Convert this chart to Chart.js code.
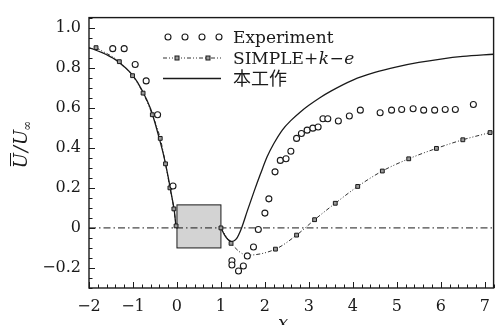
<!DOCTYPE html>
<html>
<head>
<meta charset="utf-8">
<script src="https://cdn.jsdelivr.net/npm/chart.js@4/dist/chart.umd.min.js"></script>
<style>
  html, body { margin: 0; padding: 0; background: #fff; }
  #wrap { width: 499px; height: 325px; }
</style>
</head>
<body>
<div id="wrap"><canvas id="chart-u"></canvas></div>
<script>
// tick labels
const xTicks = [-2, -1, 0, 1, 2, 3, 4, 5, 6, 7];
const yTicks = [-0.2, 0, 0.2, 0.4, 0.6, 0.8, 1.0];

// Experiment (circles)
const expX = [-1.46, -1.2, -0.95, -0.7, -0.44, -0.09, 1.25, 1.25, 1.4, 1.51, 1.6, 1.74, 1.85, 2.0, 2.09,
  2.23, 2.35, 2.48, 2.59, 2.72, 2.83, 2.96, 3.09, 3.21, 3.32, 3.43, 3.67, 3.92, 4.17, 4.62, 4.88,
  5.11, 5.37, 5.61, 5.86, 6.1, 6.33, 6.74];
const expY = [0.895, 0.895, 0.816, 0.734, 0.565, 0.209, -0.164, -0.185, -0.215, -0.19, -0.14, -0.095, -0.008, 0.074, 0.145,
  0.28, 0.337, 0.345, 0.383, 0.447, 0.471, 0.488, 0.498, 0.504, 0.545, 0.545, 0.534, 0.559, 0.588, 0.575, 0.588,
  0.591, 0.595, 0.588, 0.588, 0.591, 0.591, 0.616];

// SIMPLE+k-e (squares), upstream and downstream of the block
const simpleLeftX = [-1.84, -1.31, -1.01, -0.77, -0.56, -0.38, -0.26, -0.16, -0.07, -0.02];
const simpleLeftY = [0.90, 0.83, 0.76, 0.673, 0.565, 0.447, 0.32, 0.2, 0.095, 0.01];
const simpleRightX = [1.0, 1.23, 1.6, 2.24, 2.72, 3.13, 3.6, 4.11, 4.67, 5.27, 5.9, 6.5, 7.12];
const simpleRightY = [0, -0.077, -0.136, -0.106, -0.036, 0.041, 0.123, 0.207, 0.284, 0.345, 0.397, 0.44, 0.476];

// 本工作 (solid)
const solidLeftX = [-2, -1.7, -1.4, -1.2, -1.0, -0.8, -0.6, -0.5, -0.4, -0.3, -0.2, -0.12, -0.06, -0.02];
const solidLeftY = [0.9, 0.875, 0.84, 0.805, 0.76, 0.69, 0.595, 0.525, 0.445, 0.36, 0.255, 0.16, 0.085, 0];
const solidRightX = [1.0, 1.08, 1.16, 1.25, 1.35, 1.47, 1.6, 1.75, 1.9, 2.05, 2.2, 2.4, 2.6, 2.8, 3.0, 3.25,
  3.5, 4.0, 4.5, 5.0, 5.5, 6.0, 6.5, 7.2];
const solidRightY = [0, -0.035, -0.058, -0.068, -0.055, 0, 0.085, 0.18, 0.27, 0.355, 0.42, 0.49, 0.538, 0.578, 0.612, 0.65,
  0.683, 0.738, 0.776, 0.804, 0.826, 0.843, 0.856, 0.867];

// zero line and the block
const zeroX = [-2, 7.2];
const zeroY = [0, 0];
const boxX = [0, 1];
const boxY = [-0.1, 0.115];

const pts = (xs, ys) => xs.map((v, i) => ({ x: v, y: ys[i] }));
const ink = '#1a1a1a';
const serif = "'DejaVu Serif', serif";
const minus = v => (v < 0 ? '\u2212' + Math.abs(v) : '' + v);

const simpleStyle = {
  borderColor: ink,
  borderWidth: 0.9,
  borderDash: [4, 2, 1, 2, 1, 2],
  pointStyle: 'rect',
  pointRadius: 2.7,
  pointBackgroundColor: '#9a9a9a',
  pointBorderColor: ink,
  pointBorderWidth: 1,
  cubicInterpolationMode: 'monotone',
  fill: false
};
const solidStyle = {
  borderColor: ink,
  borderWidth: 1.3,
  pointRadius: 0,
  cubicInterpolationMode: 'monotone',
  fill: false
};

const data = {
  datasets: [
    { label: 'Experiment', data: pts(expX, expY), showLine: false, pointStyle: 'circle',
      pointRadius: 3, pointBackgroundColor: '#fff', pointBorderColor: ink, pointBorderWidth: 1.1 },
    Object.assign({ label: 'SIMPLE+k-e', data: pts(simpleLeftX, simpleLeftY) }, simpleStyle),
    Object.assign({ label: 'SIMPLE+k-e', data: pts(simpleRightX, simpleRightY) }, simpleStyle),
    Object.assign({ label: '本工作', data: pts(solidLeftX, solidLeftY) }, solidStyle),
    Object.assign({ label: '本工作', data: pts(solidRightX, solidRightY) }, solidStyle),
    { label: 'zero', data: pts(zeroX, zeroY), borderColor: ink, borderWidth: 1,
      borderDash: [7, 3, 1.5, 3], pointRadius: 0, fill: false }
  ]
};

function drawFrameAndTicks(chart) {
  const { ctx, chartArea: a, scales: { x, y } } = chart;
  ctx.save();
  ctx.strokeStyle = ink;
  ctx.lineWidth = 1;
  ctx.beginPath();
  for (let i = -10; i <= 36; i++) {
    const px = Math.round(x.getPixelForValue(i * 0.2)) + 0.5;
    const len = i % 5 === 0 ? 6 : 3.5;
    ctx.moveTo(px, a.bottom);
    ctx.lineTo(px, a.bottom - len);
  }
  for (let i = -6; i <= 21; i++) {
    const py = Math.round(y.getPixelForValue(i * 0.05)) + 0.5;
    const len = i % 4 === 0 ? 6 : 3.5;
    ctx.moveTo(a.left, py);
    ctx.lineTo(a.left + len, py);
  }
  ctx.stroke();
  ctx.lineWidth = 1.4;
  ctx.strokeRect(a.left, a.top, a.right - a.left, a.bottom - a.top);
  ctx.restore();
}

function drawLegend(chart) {
  const ctx = chart.ctx;
  ctx.save();
  ctx.fillStyle = ink;
  ctx.strokeStyle = ink;
  // Experiment
  ctx.lineWidth = 1.1;
  [168, 185, 202, 219].forEach(cx => {
    ctx.beginPath();
    ctx.arc(cx, 37, 3, 0, Math.PI * 2);
    ctx.fillStyle = '#fff';
    ctx.fill();
    ctx.stroke();
  });
  // SIMPLE
  ctx.lineWidth = 0.9;
  ctx.setLineDash([4, 2, 1, 2, 1, 2]);
  ctx.beginPath();
  ctx.moveTo(163, 58); ctx.lineTo(221, 58);
  ctx.stroke();
  ctx.setLineDash([]);
  ctx.lineWidth = 1;
  [177, 208].forEach(cx => {
    ctx.fillStyle = '#9a9a9a';
    ctx.fillRect(cx - 2, 58 - 2, 4, 4);
    ctx.strokeRect(cx - 2, 58 - 2, 4, 4);
  });
  // solid
  ctx.lineWidth = 1.3;
  ctx.beginPath();
  ctx.moveTo(163, 78.5); ctx.lineTo(221, 78.5);
  ctx.stroke();

  // texts
  ctx.fillStyle = ink;
  ctx.textBaseline = 'alphabetic';
  ctx.font = '17px ' + serif;
  ctx.fillText('Experiment', 233, 43);
  let tx = 233;
  const parts = [['SIMPLE+', ''], ['k', 'italic '], ['\u2212', ''], ['e', 'italic ']];
  parts.forEach(([s, st]) => {
    ctx.font = st + '17px ' + serif;
    ctx.fillText(s, tx, 64);
    tx += ctx.measureText(s).width + 0.5;
  });
  ctx.font = "18px 'Noto Sans CJK SC', sans-serif";
  ctx.fillText('本工作', 233, 85);
  ctx.restore();
}

function drawTitles(chart) {
  const ctx = chart.ctx;
  ctx.save();
  ctx.fillStyle = ink;
  ctx.strokeStyle = ink;
  // x label
  ctx.font = 'italic 18px ' + serif;
  ctx.textAlign = 'center';
  ctx.fillText('x', 283, 329);
  // y label: U-bar / U_inf
  ctx.translate(21, 144);
  ctx.rotate(-Math.PI / 2);
  ctx.textAlign = 'left';
  ctx.font = 'italic 18px ' + serif;
  const wU = ctx.measureText('U').width;
  const wS = ctx.measureText('/').width;
  ctx.font = '12px ' + serif;
  const wI = ctx.measureText('\u221e').width;
  const total = wU * 2 + wS + wI + 2;
  let x0 = -total / 2;
  const base = 6;
  ctx.font = 'italic 18px ' + serif;
  ctx.fillText('U', x0, base);
  ctx.lineWidth = 1;
  ctx.beginPath();
  ctx.moveTo(x0 + 2, base - 16.5);
  ctx.lineTo(x0 + wU, base - 16.5);
  ctx.stroke();
  x0 += wU + 1;
  ctx.fillText('/', x0, base);
  x0 += wS + 1;
  ctx.fillText('U', x0, base);
  x0 += wU - 1;
  ctx.font = '12px ' + serif;
  ctx.fillText('\u221e', x0, base + 4);
  ctx.restore();
}

const deco = {
  id: 'deco',
  beforeDatasetsDraw(chart) {
    const { ctx, scales: { x, y } } = chart;
    const l = x.getPixelForValue(boxX[0]), r = x.getPixelForValue(boxX[1]);
    const t = y.getPixelForValue(boxY[1]), b = y.getPixelForValue(boxY[0]);
    ctx.save();
    ctx.fillStyle = '#d3d3d3';
    ctx.strokeStyle = ink;
    ctx.lineWidth = 1;
    ctx.fillRect(l, t, r - l, b - t);
    ctx.strokeRect(l, t, r - l, b - t);
    ctx.restore();
  },
  afterDraw(chart) {
    drawFrameAndTicks(chart);
    drawLegend(chart);
    drawTitles(chart);
  }
};

const config = {
  type: 'line',
  data: data,
  options: {
    responsive: true,
    maintainAspectRatio: false,
    animation: false,
    layout: { padding: { top: 14, right: 2, left: 0, bottom: 0 } },
    plugins: {
      legend: { display: false },
      tooltip: { enabled: false }
    },
    scales: {
      x: {
        type: 'linear',
        min: -2,
        max: 7.2,
        afterBuildTicks: s => { s.ticks = xTicks.map(v => ({ value: v })); },
        afterFit: s => { s.height = 37; },
        grid: { display: false, drawTicks: false },
        border: { display: false },
        ticks: { color: ink, padding: 9, maxRotation: 0, font: { family: serif, size: 16 },
          callback: v => minus(v) }
      },
      y: {
        type: 'linear',
        min: -0.3,
        max: 1.05,
        afterBuildTicks: s => { s.ticks = yTicks.map(v => ({ value: v })); },
        afterFit: s => { s.width = 89; },
        grid: { display: false, drawTicks: false },
        border: { display: false },
        ticks: { color: ink, padding: 8, font: { family: serif, size: 16 },
          callback: v => (v === 0 ? '0' : (v < 0 ? '\u2212' : '') + Math.abs(v).toFixed(1)) }
      }
    }
  },
  plugins: [deco]
};

const myChart = new Chart(document.getElementById('chart-u'), config);
</script>
</body>
</html>
